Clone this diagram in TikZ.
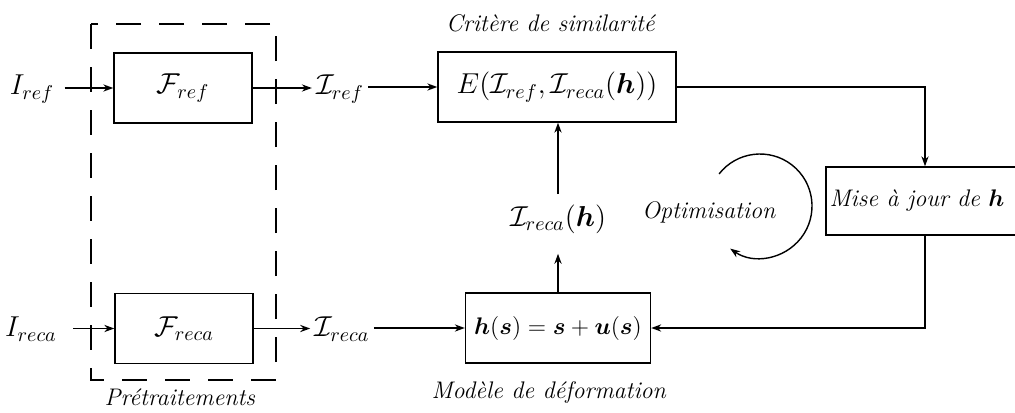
\documentclass[tikz,border=0pt]{standalone}
\usepackage{bm}
\usetikzlibrary{arrows.meta,calc}
\begin{document}
\begin{tikzpicture}[x=0.5pt,y=-0.5pt,
  font=\fontsize{12}{14}\selectfont,
  mf/.style={font=\fontsize{14.5}{17}\selectfont},
  lw/.style={line width=0.7pt},
  blk/.style={draw,lw,inner sep=0pt,minimum height=35pt},
  lbl/.style={inner sep=2pt,mf},
  arr/.style={lw,-{Stealth[length=5pt,width=3.6pt]}},
  dashbox/.style={lw,dash pattern=on 12.5pt off 9pt}]
\useasboundingbox (0,0) rectangle (1015,412);
\clip (0,0) rectangle (1015,412);
% Pretraitements dashed box
\draw[dashbox] (91,24) rectangle (276,380);
% blocks
\node[blk,mf,minimum width=69pt] (fref) at (183,88) {$\mathcal{F}_{ref}$};
\node[blk,mf,minimum width=69pt] (freca) at (184,328.5) {$\mathcal{F}_{reca}$};
\node[blk,mf,minimum width=119pt] (ebox) at (557,87) {$E(\mathcal{I}_{ref},\mathcal{I}_{reca}(\bm{h}))$};
\node[blk,font=\fontsize{13}{15}\selectfont,minimum width=92.5pt] (hbox) at (558,328) {$\bm{h}(\bm{s})=\bm{s}+\bm{u}(\bm{s})$};
\node[blk,minimum width=99pt,minimum height=34pt] (mise) at (925,201) {\hspace*{-8pt}\textit{Mise à jour de $\bm{h}$}};
% labels
\node[lbl] (iref) at (32,89) {$I_{ref}$};
\node[lbl] (ireca) at (31,329) {$I_{reca}$};
\node[lbl] (irefo) at (340,89) {$\mathcal{I}_{ref}$};
\node[lbl] (irecao) at (342,329) {$\mathcal{I}_{reca}$};
\node[lbl] (irecah) at (558,219) {$\mathcal{I}_{reca}(\bm{h})$};
\node (crit) at (551,23) {\textit{Critère de similarité}};
\node (pret) at (180,397) {\textit{Prétraitements}};
\node (mod) at (549,392) {\textit{Modèle de déformation}};
\node (opt) at (709,212) {\textit{Optimisation}};
% connectors
\draw[arr,shorten <=3pt] (iref.east |- fref.west) -- (fref.west);
\draw[arr] (fref.east) -- (fref.east -| irefo.west);
\draw[arr] (irefo.east |- ebox.west) -- (ebox.west);
\draw[arr,shorten <=6pt] (ireca.east |- freca.west) -- (freca.west);
\draw[arr] (freca.east) -- (freca.east -| irecao.west);
\draw[arr] (irecao.east |- hbox.west) -- (hbox.west);
\draw[arr,shorten >=8pt] (hbox.north) -- (hbox.north |- irecah.south);
\draw[arr,shorten <=3pt] (irecah.north -| hbox.north) -- (hbox.north |- ebox.south);
\draw[arr] (ebox.east) -| (mise.north);
\draw[arr] (mise.south) |- (hbox.east);
% optimisation loop
\coordinate (oc) at (760,206);
\draw[arr] ($(oc)+(-142:52)$) arc[start angle=-142,end angle=125,radius=52];
\end{tikzpicture}
\end{document}
